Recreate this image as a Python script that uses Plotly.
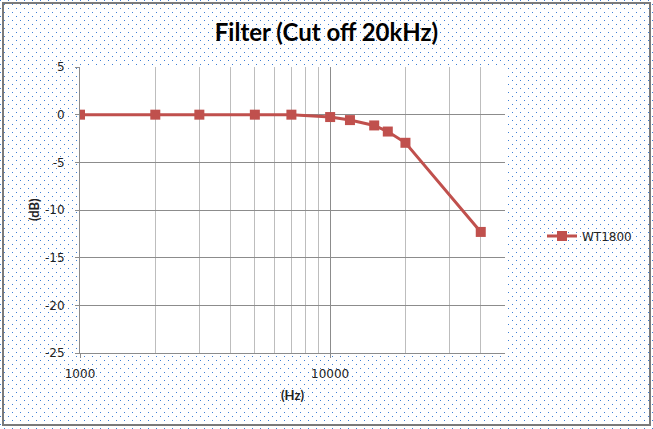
import plotly.graph_objects as go
import base64

# ---- data ----
freq_hz = [1000, 2000, 3000, 5000, 7000, 10000, 12000, 15000, 17000, 20000, 40000]
gain_db = [0, 0, 0, 0, 0, -0.25, -0.57, -1.13, -1.77, -2.95, -12.3]
series_name = "WT1800"
x_major_ticks = [1000, 10000]
x_minor_ticks = [2000, 3000, 4000, 5000, 6000, 7000, 8000, 9000, 20000, 30000, 40000, 50000]
y_ticks = [-25, -20, -15, -10, -5, 0, 5]

W, H = 653, 429
L, R, T, B = 80, 148, 67, 76
PW, PH = W - L - R, H - T - B

svg = f'''<svg xmlns="http://www.w3.org/2000/svg" width="{W}" height="{H}" viewBox="0 0 {W} {H}">
<defs><pattern id="p" width="8" height="8" patternUnits="userSpaceOnUse">
<rect x="0" y="0" width="1" height="1" fill="#3f80d6"/>
<rect x="4" y="4" width="1" height="1" fill="#3f80d6"/>
</pattern></defs>
<rect x="0" y="0" width="{W}" height="{H}" fill="white"/>
<rect x="0" y="0" width="{W}" height="{H}" fill="url(#p)"/>
</svg>'''
src = "data:image/svg+xml;base64," + base64.b64encode(svg.encode()).decode()

def px_x(p):
    return (p - L) / PW

def px_y(p):
    return 1 - (p - T) / PH

fig = go.Figure()
fig.add_trace(go.Scatter(
    x=freq_hz, y=gain_db, name=series_name, mode="lines+markers",
    line=dict(color="#C0504D", width=3),
    marker=dict(symbol="square", size=10, color="#C0504D"),
))

fig.update_layout(
    width=W, height=H,
    margin=dict(l=L, r=R, t=T, b=B, autoexpand=False),
    paper_bgcolor="white", plot_bgcolor="white",
    images=[dict(source=src, xref="paper", yref="paper",
                 x=-L / PW, y=1 + T / PH, sizex=W / PW, sizey=H / PH,
                 xanchor="left", yanchor="top", sizing="stretch", layer="below")],
    shapes=[
        dict(type="rect", xref="paper", yref="paper", x0=0, x1=1, y0=0, y1=1,
             fillcolor="white", line=dict(width=0), layer="below"),
        dict(type="rect", xref="paper", yref="paper",
             x0=px_x(3), x1=px_x(650), y0=px_y(425), y1=px_y(3),
             fillcolor="rgba(0,0,0,0)", line=dict(color="#7a7a7a", width=2), layer="above"),
    ],
    annotations=[dict(text="<b>(dB)</b>", xref="paper", yref="paper",
                      x=px_x(34), y=0.5, xanchor="center", yanchor="middle",
                      textangle=-90, showarrow=False,
                      font=dict(family="Lato", size=13, color="#222"))],
    title=dict(text="<b>Filter (Cut off 20kHz)</b>", x=0.5, xanchor="center",
               y=1 - 33 / H, yanchor="middle",
               font=dict(family="Lato", size=24, color="black")),
    showlegend=True,
    legend=dict(x=(542 - L) / PW, xanchor="left", y=1 - (236 - T) / PH, yanchor="middle",
                bgcolor="rgba(0,0,0,0)", font=dict(family="DejaVu Sans", size=12, color="#222")),
    xaxis=dict(
        type="log", range=[3, 4.69897],
        tickmode="array", tickvals=x_major_ticks, ticktext=[str(v) for v in x_major_ticks],
        showgrid=True, gridcolor="#8c8c8c", gridwidth=1,
        minor=dict(tickmode="array", tickvals=x_minor_ticks, showgrid=True,
                   gridcolor="#bdbdbd", gridwidth=1, ticks=""),
        showline=True, linecolor="#8c8c8c", linewidth=1,
        ticks="outside", ticklen=4, tickcolor="#8c8c8c",
        ticklabelstandoff=6,
        tickfont=dict(family="DejaVu Sans", size=12, color="#222"),
        title=dict(text="<b>(Hz)</b>", font=dict(family="Lato", size=13, color="#222"), standoff=10),
        zeroline=False,
    ),
    yaxis=dict(
        range=[-25, 5], tickmode="array", tickvals=y_ticks, ticktext=[str(v) for v in y_ticks],
        showgrid=True, gridcolor="#8c8c8c", gridwidth=1,
        showline=True, linecolor="#8c8c8c", linewidth=1,
        ticks="outside", ticklen=4, tickcolor="#8c8c8c",
        ticklabelstandoff=8,
        tickfont=dict(family="DejaVu Sans", size=12, color="#222"),
        zeroline=False,
    ),
)

fig.write_html("out.html", config={"displayModeBar": False},
               post_script="document.body.style.margin='0';document.body.style.padding='0';")
